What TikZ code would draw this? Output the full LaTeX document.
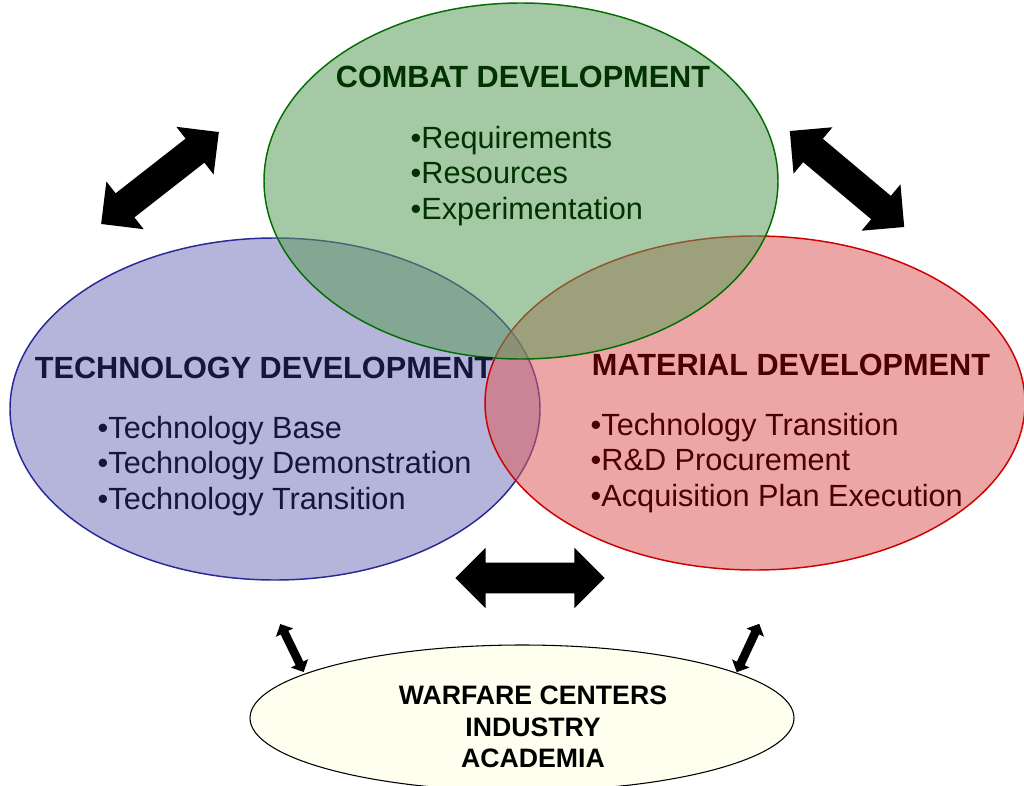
\documentclass[tikz,border=0pt]{standalone}
\usepackage{fontspec}
\setmainfont{Liberation Sans}
\usetikzlibrary{shapes.arrows}
\definecolor{cmbfill}{RGB}{91,157,91}
\definecolor{cmbline}{RGB}{0,110,0}
\definecolor{cmbtext}{RGB}{0,51,0}
\definecolor{tecfill}{RGB}{120,120,190}
\definecolor{tecline}{RGB}{40,40,150}
\definecolor{tectext}{RGB}{22,22,60}
\definecolor{matfill}{RGB}{220,93,93}
\definecolor{matline}{RGB}{205,0,0}
\definecolor{mattext}{RGB}{77,0,0}
\definecolor{wfcfill}{RGB}{255,255,240}
\tikzset{
  blob/.style={fill opacity=0.55, line width=1.1pt},
  bigarrow/.style={double arrow, fill=black, inner xsep=0pt, inner ysep=11.25pt,
    double arrow tip angle=90, minimum width=45pt, minimum height=112pt,
    double arrow head extend=11.25pt},
  smallarrow/.style={double arrow, fill=black, inner xsep=0pt, inner ysep=3pt,
    double arrow tip angle=90, minimum width=14pt, minimum height=40pt,
    double arrow head extend=4pt},
  title/.style={font=\fontsize{23}{27}\selectfont\bfseries},
  items/.style={align=left, anchor=west, font=\fontsize{23}{26.6}\selectfont},
}
\begin{document}
\begin{tikzpicture}[x=0.75pt,y=-0.75pt]
\useasboundingbox (0,0) rectangle (1024,785);
\scope % the three areas
    \filldraw[blob, fill=tecfill, draw=tecline] (275,409) ellipse [x radius=265, y radius=171];
    \filldraw[blob, fill=matfill, draw=matline] (755,403) ellipse [x radius=270, y radius=167];
    \filldraw[blob, fill=cmbfill, draw=cmbline] (521,181) ellipse [x radius=257, y radius=178];
\endscope
% partners
\filldraw[fill=wfcfill, draw=black, line width=0.8pt] (522,718) ellipse [x radius=272, y radius=73];
% texts
\node[title, text=cmbtext] (cmbTitle) at (523,77) {COMBAT DEVELOPMENT};
\node[items, text=cmbtext] (cmbList) at (406,176) {•Requirements\\•Resources\\•Experimentation};
\node[title, text=tectext] (tecTitle) at (264,368) {TECHNOLOGY DEVELOPMENT};
\node[items, text=tectext] (tecList) at (93,466) {•Technology Base\\•Technology Demonstration\\•Technology Transition};
\node[title, text=mattext] (matTitle) at (791,365) {MATERIAL DEVELOPMENT};
\node[items, text=mattext] (matList) at (586,463) {•Technology Transition\\•R\&D Procurement\\•Acquisition Plan Execution};
\node[align=center, font=\fontsize{20}{23.5}\selectfont\bfseries] (wfcText) at (533,727)
    {WARFARE CENTERS\\INDUSTRY\\ACADEMIA};
% arrows
\node[bigarrow, rotate=38] (arrTL) at (160,178) {};
\node[bigarrow, rotate=-40] (arrTR) at (847,179) {};
\node[bigarrow] (arrMid) at (530,578) {};
\node[smallarrow, rotate=-64] (arrBL) at (292,648) {};
\node[smallarrow, rotate=65] (arrBR) at (748,648) {};
\end{tikzpicture}
\end{document}
